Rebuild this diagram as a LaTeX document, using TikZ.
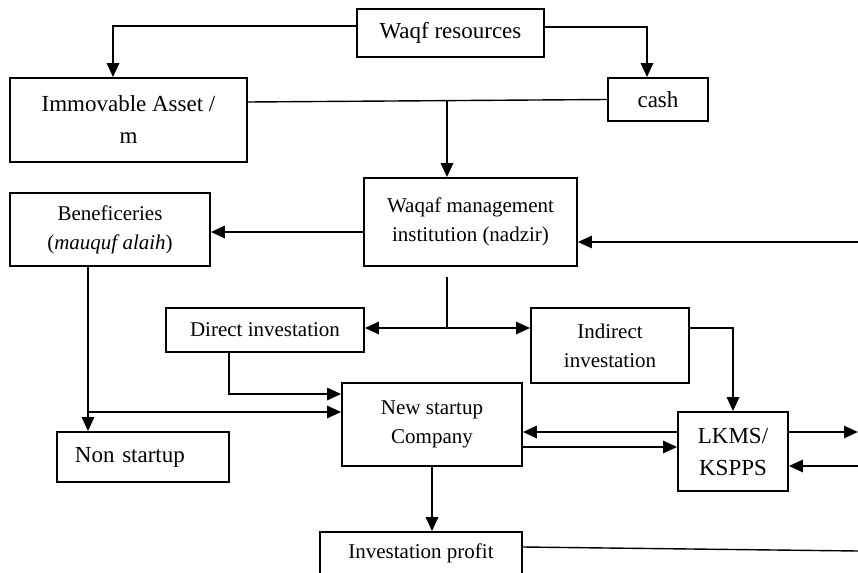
\documentclass[tikz,border=0pt]{standalone}
\usepackage{fontspec}
\setmainfont{Liberation Serif}
\usetikzlibrary{arrows.meta,positioning,calc}
\newcommand{\smallfnt}{\fontsize{10.5}{14.5}\selectfont}
\newcommand{\bigfnt}{\fontsize{11.5}{16}\selectfont}

\begin{document}
\begin{tikzpicture}[
  x=0.5pt, y=-0.5pt,
  >={Triangle[length=7pt,width=6pt]},
  box/.style={rectangle, draw, line width=0.8pt, align=center, font=\smallfnt},
  bigbox/.style={box, font=\bigfnt},
  link/.style={draw, ->, line width=1.3pt},
  plain/.style={draw, line width=0.7pt}
]
  \useasboundingbox (0,0) rectangle (858,573);

  \node[bigbox, minimum width=93.5pt, minimum height=24pt] (res) at (450.5,33) {Waqf resources};
  \node[bigbox, minimum width=118.5pt, minimum height=42pt] (imm) at (128.5,120) {Immovable Asset /\\m};
  \node[bigbox, minimum width=50pt, minimum height=21.5pt] (cash) at (658,99.5) {cash};
  \node[box, minimum width=106.5pt, minimum height=44pt] (mgmt) at (470.5,222) {Waqaf management\\institution (nadzir)};
  \node[box, minimum width=100pt, minimum height=36.5pt] (ben) at (110,229.5) {Beneficeries\\(\textit{mauquf alaih})};
  \node[box, minimum width=99pt, minimum height=22pt] (direct) at (265,330) {Direct investation};
  \node[box, minimum width=79pt, minimum height=37.5pt] (indirect) at (610,345.5) {Indirect\\investation};
  \node[box, minimum width=90pt, minimum height=41.5pt] (newco) at (432,424.5) {New startup\\Company};
  \node[bigbox, align=left, inner xsep=9pt, text width=68pt, minimum height=25pt] (nonst) at (143,457) {Non startup};
  \node[bigbox, minimum width=55pt, minimum height=39.5pt] (lkms) at (733,451.5) {LKMS/\\KSPPS};
  \node[box, minimum width=101pt, minimum height=21pt] (profit) at (421,553) {Investation profit};

  \coordinate (drop) at (447,0);
  \coordinate (spl) at (447,328);
  \coordinate (bx) at (88,0);

  % resources split
  \draw[link] (res.west |- 0,26) -| (imm.north -| 113,0);
  \draw[link] (res.east |- 0,27) -| (cash.north -| 647,0);
  \draw[plain] (imm.east |- 0,102) -- (cash.west);
  \draw[link] (drop |- cash.west) -- (drop |- mgmt.north);

  % management
  \draw[link] (mgmt.west |- 0,232) -- (ben.east |- 0,232);
  \draw[link] (858,242) -- (mgmt.east |- 0,242);
  \draw[plain] (drop |- 0,277) -- (spl);
  \draw[link] (spl) -- (direct.east |- spl);
  \draw[link] (spl) -- (indirect.west |- spl);
  \draw[link] (indirect.east |- spl) -| (lkms.north);

  % investments
  \draw[link] (direct.south -| 229,0) |- (newco.west |- 0,394);
  \draw[link] (bx |- ben.south) -- (bx |- nonst.north);
  \draw[link] (bx |- 0,412) -- (newco.west |- 0,412);
  \draw[link] (lkms.west |- 0,432) -- (newco.east |- 0,432);
  \draw[link] (newco.east |- 0,447) -- (lkms.west |- 0,447);
  \draw[link] (lkms.east |- 0,432) -- (858,432);
  \draw[link] (858,466) -- (lkms.east |- 0,466);
  \draw[link] (newco.south) -- (newco.south |- profit.north);
  \draw[plain] (profit.east |- 0,547) -- (858,551);
\end{tikzpicture}
\end{document}
